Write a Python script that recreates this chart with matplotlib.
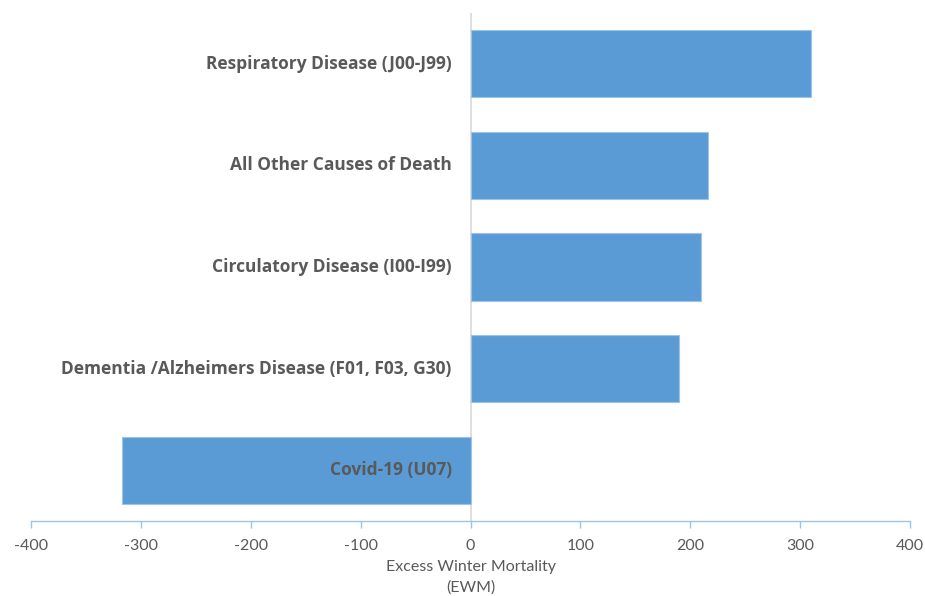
import matplotlib.pyplot as plt

causes = ['Respiratory Disease (J00-J99)',
          'All Other Causes of Death',
          'Circulatory Disease (I00-I99)',
          'Dementia /Alzheimers Disease (F01, F03, G30)',
          'Covid-19 (U07)']
ewm = [310, 216, 210, 190, -317]
ticks = [-400, -300, -200, -100, 0, 100, 200, 300, 400]

grey = '#595959'

fig = plt.figure(figsize=(9.25, 5.96), dpi=100)
ax = fig.add_axes([31 / 925, 1 - 521 / 596, 879 / 925, 508 / 596])

# top category first
pos = list(range(len(causes)))[::-1]
ax.barh(pos, ewm, height=0.66, color='#5b9bd5', edgecolor='#9dc3e6',
        linewidth=0.8, zorder=2)
ax.axvline(0, color='#d9d9d9', linewidth=1.2, zorder=1)

# category names sit just left of zero, on top of the bars
for p, name in zip(pos, causes):
    ax.text(-17, p, name, ha='right', va='center', fontsize=12.5,
            fontweight='bold', color=grey, family='Open Sans', zorder=3)

ax.set_xlim(-400, 400)
ax.set_ylim(-0.5, 4.5)
ax.set_xticks(ticks)
ax.set_xticklabels([str(t) for t in ticks], fontsize=11.5, color=grey,
                   family='Lato')
ax.set_yticks([])
ax.tick_params(axis='x', direction='out', length=5, color='#9dc3e6',
               width=1, pad=8)
for s in ['top', 'right', 'left']:
    ax.spines[s].set_visible(False)
ax.spines['bottom'].set_color('#9dc3e6')
ax.spines['bottom'].set_linewidth(1)

ax.set_xlabel('Excess Winter Mortality\n(EWM)', fontsize=11.5, color=grey,
              family='Lato', labelpad=5, linespacing=1.6)

fig.savefig('out.png', dpi=100)
